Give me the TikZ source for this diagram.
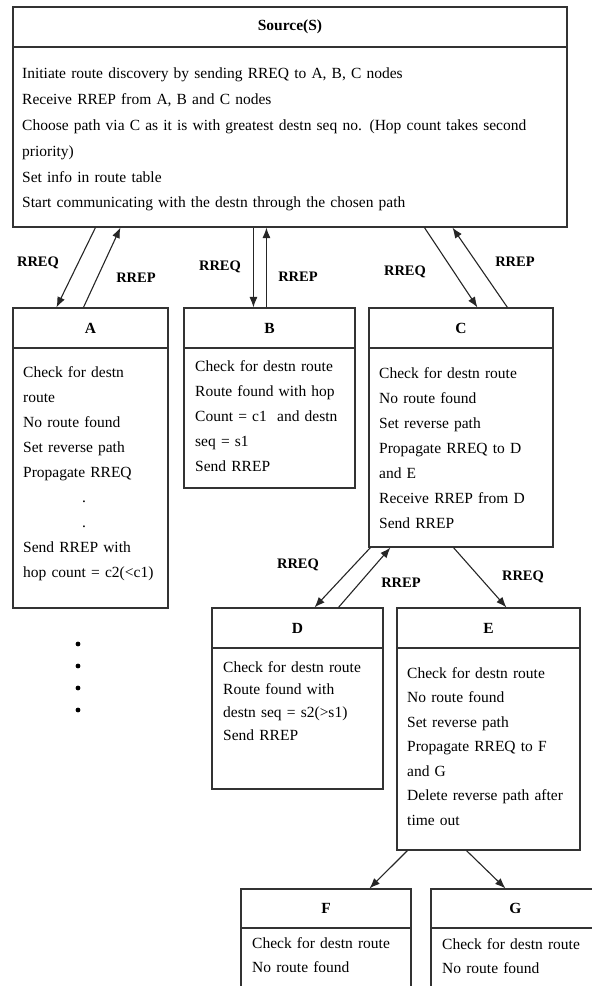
\documentclass[tikz,border=0pt]{standalone}
\usepackage{fontspec}
\setmainfont{Liberation Serif}
\usetikzlibrary{positioning,arrows.meta}
\tikzset{
  hdr/.style={draw=black!80, line width=1.1pt, minimum height=40pt, inner sep=0pt,
              font=\fontsize{15.5}{18}\selectfont\bfseries},
  bodybox/.style={draw=black!80, line width=1.1pt, inner sep=0pt},
  txt/.style={anchor=north west, inner sep=0pt, align=left, text width=#1,
              font=\fontsize{15.5}{25}\selectfont},
  txt/.default=180pt,
  msg/.style={font=\fontsize{14.5}{16}\selectfont\bfseries, inner sep=0pt},
  link/.style={draw=black!85, line width=1.1pt, -{Latex[length=10.5pt,width=8pt]}}
}
\begin{document}
\begin{tikzpicture}[x=1pt, y=-1pt]
  \useasboundingbox (0,0) rectangle (592,986);

  % source
  \node[hdr, minimum width=554pt] (S) at (290,27) {Source(S)};
  \node[bodybox, minimum width=554pt, minimum height=180pt] (Sbody) at (290,137) {};
  \node[txt=540pt, font=\fontsize{15.5}{25.8}\selectfont] (Stext) at (22,68)
    {Initiate route discovery by sending RREQ to A, B, C nodes\\
     Receive RREP from A, B and C nodes\\
     Choose path via C as it is with greatest destn seq no. (Hop count takes second\\
     priority)\\
     Set info in route table\\
     Start communicating with the destn through the chosen path};

  % first level: A, B, C
  \node[hdr, minimum width=155pt] (A) at (90.5,328) {A};
  \node[bodybox, minimum width=155pt, minimum height=260pt] (Abody) at (90.5,478) {};
  \node[txt] (Atext) at (23,366)
    {Check for destn\\ route\\ No route found\\ Set reverse path\\ Propagate RREQ\\
     \hspace*{59pt}.\\ \hspace*{59pt}.\\ Send RREP with\\ hop count = c2(<c1)};

  \node[hdr, minimum width=171pt] (B) at (269.5,328) {B};
  \node[bodybox, minimum width=171pt, minimum height=140pt] (Bbody) at (269.5,418) {};
  \node[txt] (Btext) at (195,360)
    {Check for destn route\\ Route found with hop\\ Count = c1\ \ and destn\\ seq = s1\\ Send RREP};

  \node[hdr, minimum width=184pt] (C) at (461,328) {C};
  \node[bodybox, minimum width=184pt, minimum height=199pt] (Cbody) at (461,447.5) {};
  \node[txt] (Ctext) at (379,367)
    {Check for destn route\\ No route found\\ Set reverse path\\ Propagate RREQ to D\\
     and E\\ Receive RREP from D\\ Send RREP};

  % second level: D, E
  \node[hdr, minimum width=171pt] (D) at (297.5,628) {D};
  \node[bodybox, minimum width=171pt, minimum height=141pt] (Dbody) at (297.5,718.5) {};
  \node[txt, font=\fontsize{15.5}{22.7}\selectfont] (Dtext) at (223,661)
    {Check for destn route\\ Route found with\\ destn seq = s2(>s1)\\ Send RREP};

  \node[hdr, minimum width=183pt] (E) at (488.5,628) {E};
  \node[bodybox, minimum width=183pt, minimum height=202pt] (Ebody) at (488.5,749) {};
  \node[txt, font=\fontsize{15.5}{24.5}\selectfont] (Etext) at (407,667)
    {Check for destn route\\ No route found\\ Set reverse path\\ Propagate RREQ to F\\
     and G\\ Delete reverse path after\\ time out};

  % third level: F, G
  \node[hdr, minimum width=170pt, minimum height=39pt] (F) at (326,908.5) {F};
  \node[bodybox, minimum width=170pt, minimum height=72pt] (Fbody) at (326,964) {};
  \node[txt, font=\fontsize{15.5}{24}\selectfont] (Ftext) at (252,937)
    {Check for destn route\\ No route found};

  \node[hdr, minimum width=169pt, minimum height=39pt] (G) at (515.5,908.5) {G};
  \node[bodybox, minimum width=169pt, minimum height=72pt] (Gbody) at (515.5,964) {};
  \node[txt, font=\fontsize{15.5}{24}\selectfont] (Gtext) at (442,938)
    {Check for destn route\\ No route found};

  % more nodes below A
  \foreach \y in {644,666,688,710}
    \fill (78,\y) circle (2.4pt);

  % messages S <-> A, B, C
  \draw[link] ([xshift=83pt]Sbody.south west) -- ([xshift=44pt]A.north west);
  \draw[link] ([xshift=71pt]A.north west) -- ([xshift=108pt]Sbody.south west);
  \draw[link] ([xshift=241pt]Sbody.south west) -- ([xshift=70pt]B.north west);
  \draw[link] ([xshift=83pt]B.north west) -- ([xshift=254pt]Sbody.south west);
  \draw[link] ([xshift=412pt]Sbody.south west) -- ([xshift=109pt]C.north west);
  \draw[link] ([xshift=139pt]C.north west) -- ([xshift=440pt]Sbody.south west);

  % messages C <-> D, E
  \draw[link] ([xshift=2pt]Cbody.south west) -- ([xshift=103pt]D.north west);
  \draw[link] ([xshift=127pt]D.north west) -- ([xshift=22pt]Cbody.south west);
  \draw[link] ([xshift=85pt]Cbody.south west) -- ([xshift=110pt]E.north west);

  % E -> F, G
  \draw[link] ([xshift=11pt]Ebody.south west) -- ([xshift=129pt]F.north west);
  \draw[link] ([xshift=70pt]Ebody.south west) -- ([xshift=75pt]G.north west);

  % labels
  \node[msg] (reqA) at (38,263) {RREQ};
  \node[msg] (repA) at (136,278) {RREP};
  \node[msg] (reqB) at (220,267) {RREQ};
  \node[msg] (repB) at (298,277) {RREP};
  \node[msg] (reqC) at (405,272) {RREQ};
  \node[msg] (repC) at (515,262) {RREP};
  \node[msg] (reqD) at (298,565) {RREQ};
  \node[msg] (repD) at (401,583) {RREP};
  \node[msg] (reqE) at (523,577) {RREQ};
\end{tikzpicture}
\end{document}
